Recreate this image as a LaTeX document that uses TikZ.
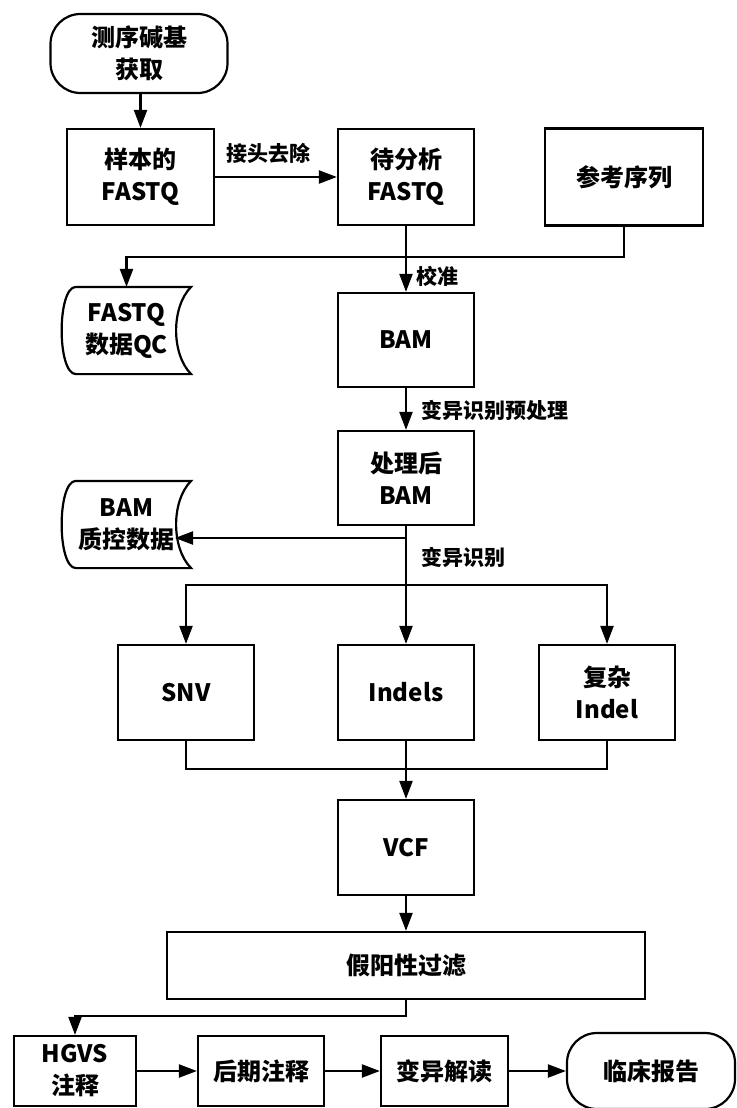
\documentclass[tikz,border=0pt]{standalone}
\usepackage{fontspec}
\setmainfont{Noto Sans CJK SC}
\usetikzlibrary{arrows.meta,positioning,calc}

\begin{document}
\begin{tikzpicture}[
    x=1pt, y=-1pt,
    box/.style={draw, line width=2.2pt, align=center, inner sep=0pt,
                font={\fontsize{24}{32}\selectfont\bfseries},
                minimum width=136pt, minimum height=95pt},
    term/.style={box, rounded corners=30pt},
    store/.style={box, draw=none, minimum width=127pt, minimum height=85pt},
    lbl/.style={font={\fontsize{21}{24}\selectfont\bfseries}, inner sep=1pt},
    wire/.style={line width=2.2pt},
    arr/.style={-{Stealth[length=18pt,width=13pt,inset=0pt]}, line width=2.2pt},
  ]
  \useasboundingbox (0,0) rectangle (736,1108);

  % input side
  \node[term, minimum width=177pt, minimum height=79pt] (seq) at (139,53.5) {测序碱基\\获取};
  \node[box, minimum width=147pt, minimum height=96pt] (fq1) at (140.5,177) {样本的\\FASTQ};
  \node[box, minimum height=96pt] (fq2) at (406,177) {待分析\\FASTQ};
  \node[box, minimum width=158pt, minimum height=97pt] (ref) at (624,177) {参考序列};
  \node[store] (fqc) at (126.5,330.5) {FASTQ\\数据QC};

  % alignment
  \node[box, minimum height=94pt] (bam) at (406,340) {BAM};
  \node[box, minimum height=94pt] (pbam) at (406,478) {处理后\\BAM};
  \node[store] (bqc) at (126.5,524.5) {BAM\\质控数据};

  % variant calling
  \node[box] (snv) at (186,692.5) {SNV};
  \node[box] (indels) at (406,692.5) {Indels};
  \node[box] (cindel) at (607,692.5) {复杂\\Indel};
  \node[box] (vcf) at (406,847.5) {VCF};
  \node[box, minimum width=478pt, minimum height=67pt] (fp) at (406,965.5) {假阳性过滤};

  % annotation
  \node[box, minimum width=122pt, minimum height=70pt] (hgvs) at (75,1071) {HGVS\\注释};
  \node[box, minimum width=126pt, minimum height=70pt] (post) at (261,1071) {后期注释};
  \node[box, minimum width=127pt, minimum height=70pt] (interp) at (444.5,1071) {变异解读};
  \node[term, minimum width=168pt, minimum height=76pt] (report) at (651,1071) {临床报告};

  % edge labels
  \node[lbl] (lcut) at (268,153) {接头去除};
  \node[lbl, anchor=west] (lcal) at (415,276) {校准};
  \node[lbl, anchor=west] (lpre) at (420,410) {变异识别预处理};
  \node[lbl, anchor=west] (lcall) at (420,557) {变异识别};

  % stored data outlines
  \foreach \s in {fqc,bqc}
    \draw[wire] ($(\s.north west)+(14,0)$) -- (\s.north east)
      .. controls ($(\s.north east)+(-20,20)$) and ($(\s.south east)+(-20,-20)$) .. (\s.south east)
      -- ($(\s.south west)+(14,0)$)
      .. controls ($(\s.south west)+(-5,0)$) and ($(\s.north west)+(-5,0)$) .. cycle;

  \coordinate (refbend) at (624,257);
  \coordinate (bqcin) at (175,538);
  \coordinate (split) at (406,585);
  \coordinate (join) at (406,769);
  \coordinate (fpbend) at (406,1016);

  \draw[arr] (seq.south -| fq1) -- (fq1);
  \draw[arr] (fq1) -- (fq2);
  \draw[arr] (fq2) -- (bam);
  \draw[arr] (ref) -- (refbend) -| (fqc);
  \draw[arr] (bam) -- (pbam);
  \draw[arr] (pbam.south |- bqcin) -- (bqcin);
  \draw[wire] (pbam) -- (split);
  \draw[arr] (split) -| (snv);
  \draw[arr] (split) -| (cindel);
  \draw[arr] (split) -- (indels);
  \draw[wire] (snv) |- (join) -| (cindel);
  \draw[arr] (indels) -- (vcf);
  \draw[arr] (vcf) -- (fp);
  \draw[arr] (fp) -- (fpbend) -| (hgvs);
  \draw[arr] (hgvs) -- (post);
  \draw[arr] (post) -- (interp);
  \draw[arr] (interp) -- (report);
\end{tikzpicture}
\end{document}
